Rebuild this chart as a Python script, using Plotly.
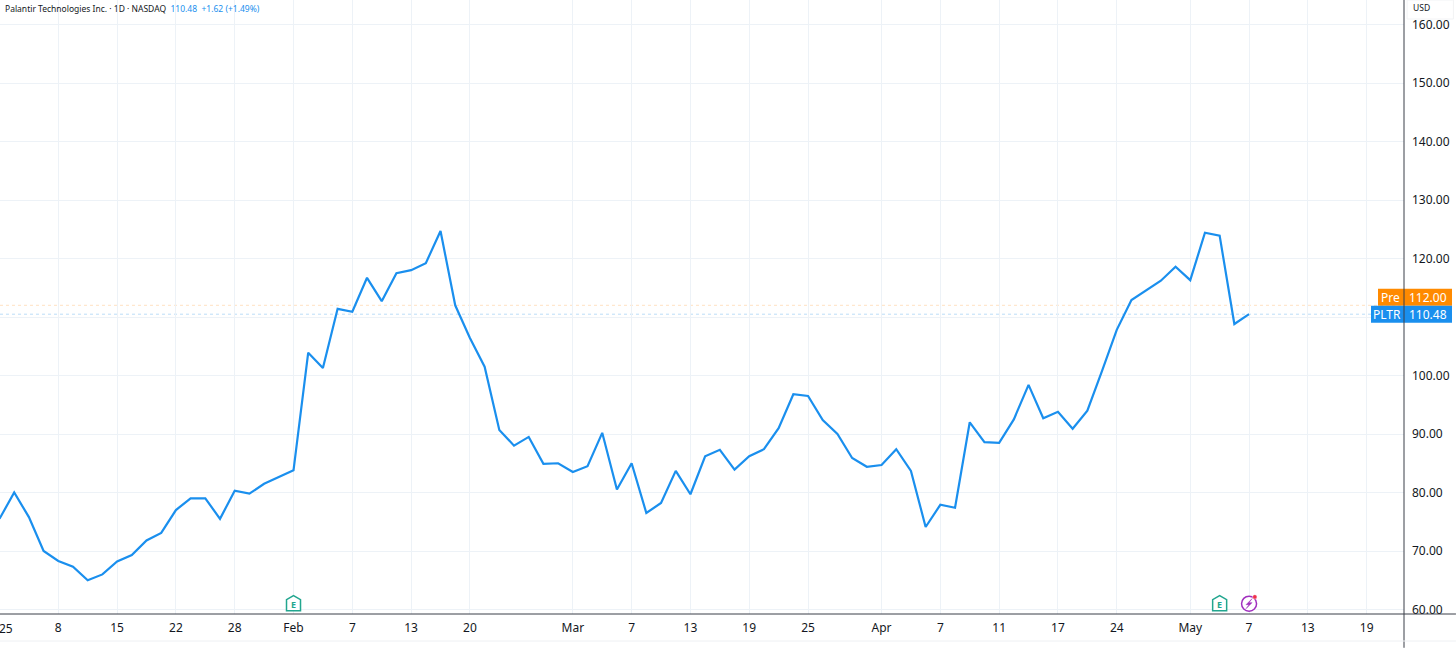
import plotly.graph_objects as go

closes = [75.5, 80, 75.8, 70, 68.3, 67.3, 65, 66, 68.2, 69.3, 71.8, 73.1, 77, 79, 79, 75.5,
          80.3, 79.8, 81.5, 82.7, 83.8, 103.9, 101.3, 111.4, 110.9, 116.7, 112.7, 117.5, 118, 119.2,
          124.7, 112, 106.4, 101.5, 90.7, 88, 89.5, 84.9, 85, 83.5, 84.5, 90.2, 80.5, 85, 76.5, 78.2,
          83.7, 79.7, 86.2, 87.3, 83.9, 86.2, 87.4, 91, 96.8, 96.5, 92.4, 90, 85.9, 84.4, 84.7, 87.4,
          83.7, 74.1, 77.9, 77.4, 92, 88.6, 88.5, 92.5, 98.4, 92.7, 93.8, 90.9, 94, 100.8, 107.8,
          112.9, 114.6, 116.2, 118.6, 116.3, 124.4, 123.9, 108.8, 110.48]
bar_index = list(range(len(closes)))

tick_index = [4, 8, 12, 16, 20, 24, 28, 32, 39, 43, 47, 51, 55, 60, 64, 68, 72, 76, 81, 85, 89, 93]
tick_labels = ["8", "15", "22", "28", "Feb", "7", "13", "20", "Mar", "7", "13", "19", "25",
               "Apr", "7", "11", "17", "24", "May", "7", "13", "19"]
year_label = "25"
price_ticks = [60, 70, 80, 90, 100, 110, 120, 130, 140, 150, 160]
# the 110.00 label sits hidden behind the PLTR badge in the reference
price_labels = ["60.00", "70.00", "80.00", "90.00", "100.00", "", "120.00", "130.00", "140.00", "150.00", "160.00"]

pre_price = 112.00
last_price = 110.48
earnings_index = [20, 83]
dividend_index = [85]
icon_price = 61

BLUE = "#1A8FEE"
ORANGE = "#FF8A00"
GRID = "#EDF2F7"
INK = "#131722"
TEAL = "#22A68F"
PURPLE = "#A12FBF"
FONT = "Noto Sans, Open Sans, sans-serif"

fig = go.Figure()
fig.add_trace(go.Scatter(x=bar_index, y=closes, mode="lines",
                         line=dict(color=BLUE, width=2.2), hoverinfo="x+y", showlegend=False))

shapes = []
annotations = []

for price, col in ((pre_price, "#FFE2C2"), (last_price, "#BBDDF8")):
    shapes.append(dict(type="line", xref="paper", x0=0, x1=1, yref="y", y0=price, y1=price,
                       line=dict(color=col, width=1, dash="dot"), layer="below"))

house = "M -7,-7 L 7,-7 L 7,4 L 0,8 L -7,4 Z"
for idx in earnings_index:
    shapes.append(dict(type="path", xsizemode="pixel", ysizemode="pixel", xanchor=idx, yanchor=icon_price,
                       xref="x", yref="y", path=house, fillcolor="white",
                       line=dict(color=TEAL, width=1.5)))
    annotations.append(dict(x=idx, y=icon_price, xref="x", yref="y", text="<b>E</b>", showarrow=False,
                            yshift=-1, font=dict(size=9, color=TEAL, family=FONT)))

for idx in dividend_index:
    shapes.append(dict(type="circle", xsizemode="pixel", ysizemode="pixel", xanchor=idx, yanchor=icon_price,
                       xref="x", yref="y", x0=-7.5, x1=7.5, y0=-7.5, y1=7.5,
                       fillcolor="white", line=dict(color=PURPLE, width=1.5)))
    shapes.append(dict(type="path", xsizemode="pixel", ysizemode="pixel", xanchor=idx, yanchor=icon_price,
                       xref="x", yref="y", path="M 3,5 L -3,-1 L 0,-1 L -3,-5 L 3,1 L 0,1 Z",
                       fillcolor=PURPLE, line=dict(color=PURPLE, width=0.5)))
    shapes.append(dict(type="circle", xsizemode="pixel", ysizemode="pixel", xanchor=idx, yanchor=icon_price,
                       xref="x", yref="y", x0=3.5, x1=8, y0=4.5, y1=9,
                       fillcolor="#F0304A", line=dict(color="white", width=0.5)))

# price-axis badges: the upper one is stacked above the lower one, as the reference does
for price, col, name, left, shift in ((pre_price, ORANGE, "Pre", -26, 8), (last_price, BLUE, "PLTR", -33, 0)):
    shapes.append(dict(type="path", xref="paper", yref="y", xsizemode="pixel", ysizemode="pixel",
                       xanchor=1, yanchor=price,
                       path=f"M {left},{shift - 8.5} L 48,{shift - 8.5} L 48,{shift + 8.5} L {left},{shift + 8.5} Z",
                       fillcolor=col, line=dict(width=0), layer="above"))
    annotations.append(dict(x=1, y=price, xref="paper", yref="y", text=name, showarrow=False,
                            xanchor="center", xshift=(left - 1) / 2, yshift=shift,
                            font=dict(size=12, color="white", family=FONT)))
    annotations.append(dict(x=1, y=price, xref="paper", yref="y", text=f"{price:.2f}", showarrow=False,
                            xanchor="right", xshift=45, yshift=shift,
                            font=dict(size=12, color="white", family=FONT)))

shapes.append(dict(type="line", xref="paper", yref="paper", x0=1, x1=1, y0=-0.055, y1=1,
                   line=dict(color="#3A3E48", width=1), layer="above"))
shapes.append(dict(type="line", xref="paper", yref="paper", x0=0, x1=1.037, y0=0, y1=0,
                   line=dict(color="#3A3E48", width=1), layer="above"))
shapes.append(dict(type="line", xref="paper", yref="paper", x0=0, x1=1.037, y0=-0.044, y1=-0.044,
                   line=dict(color="#EEF0F3", width=1), layer="above"))
shapes.append(dict(type="rect", xref="paper", yref="paper", x0=1.0022, x1=1.0352, y0=0.969, y1=1.0,
                   fillcolor="white", line=dict(color="#F2F3F5", width=1), layer="above"))

annotations.append(dict(x=0, y=1, xref="paper", yref="paper", xanchor="left", yanchor="top",
                        xshift=3, yshift=-1, showarrow=False, align="left",
                        text=f"<span style='color:{INK}'>Palantir Technologies Inc. · 1D · NASDAQ</span>"
                             f"  <span style='color:{BLUE}'>{last_price:.2f}  +1.62 (+1.49%)</span>",
                        font=dict(size=8.5, family=FONT)))
annotations.append(dict(x=1, y=1, xref="paper", yref="paper", xanchor="left", yanchor="top",
                        xshift=7, yshift=0, showarrow=False, text="USD",
                        font=dict(size=8.5, color=INK, family=FONT)))
annotations.append(dict(x=0, y=0, xref="paper", yref="paper", xanchor="left", yanchor="top",
                        xshift=-3, yshift=-4, showarrow=False, text=year_label,
                        font=dict(size=12, color=INK, family=FONT)))

fig.update_layout(
    width=1456, height=648, autosize=False,
    margin=dict(l=0, r=52, t=0, b=34),
    paper_bgcolor="white", plot_bgcolor="white",
    showlegend=False, shapes=shapes, annotations=annotations,
    font=dict(family=FONT, color=INK, size=12),
    xaxis=dict(range=[0.034, 95.54], tickmode="array", tickvals=tick_index, ticktext=tick_labels,
               showgrid=True, gridcolor=GRID, gridwidth=1, zeroline=False, showline=False,
               ticks="", ticklabelstandoff=5, tickfont=dict(size=12, color=INK, family=FONT)),
    yaxis=dict(range=[59.23, 164.19], side="right", tickmode="array", tickvals=price_ticks,
               ticktext=price_labels, showgrid=True, gridcolor=GRID, gridwidth=1, zeroline=False,
               showline=False, ticks="", ticklabelstandoff=7, tickfont=dict(size=12, color=INK, family=FONT)),
)

fig.write_html("out.html", post_script="document.body.style.margin='0';", config={"displayModeBar": False})
